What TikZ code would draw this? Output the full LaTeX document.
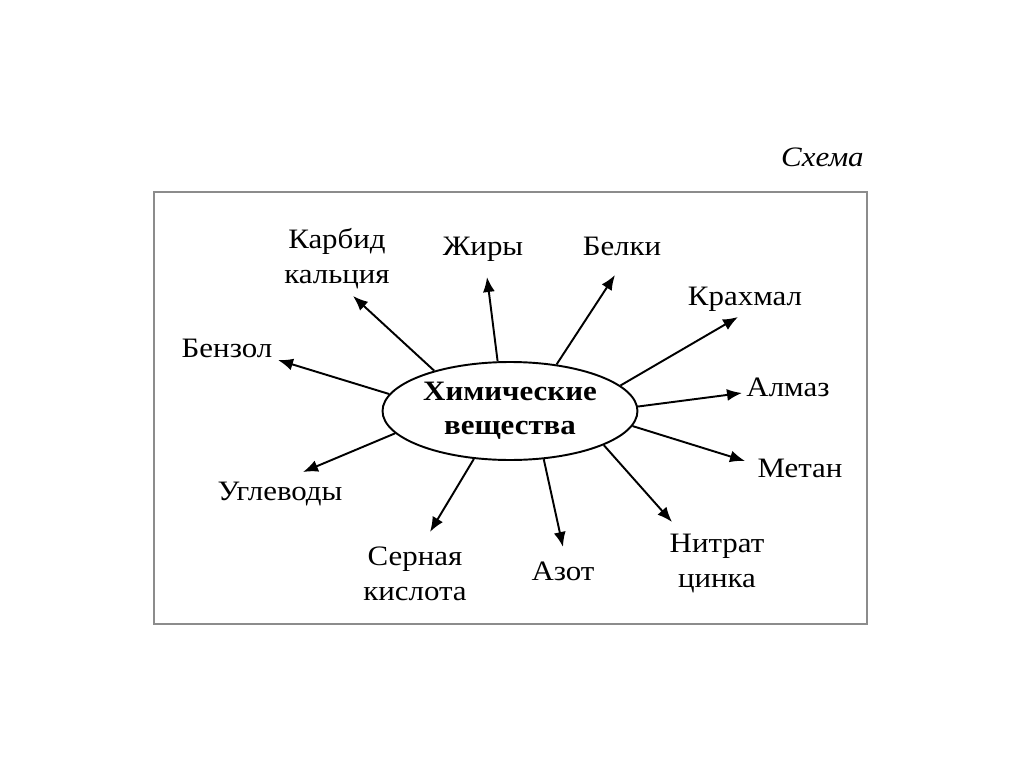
\documentclass[tikz,border=0pt]{standalone}
\usepackage{fontspec}
\setmainfont{Liberation Serif}[FakeStretch=1.1]
\usetikzlibrary{arrows.meta,shapes.geometric}
\begin{document}
\begin{tikzpicture}[x=0.02cm,y=-0.02cm,
  lbl/.style={font=\fontsize{16}{19.4}\selectfont, inner sep=0pt, align=center, anchor=base},
  arr/.style={line width=1.1pt, -{Latex[length=0.3cm,width=0.24cm]}},
  frame/.style={line width=1.4pt, draw=black!45},
  hub/.style={ellipse, draw, line width=1.1pt, minimum width=5.1cm, minimum height=1.96cm,
    inner sep=0pt, align=center, font=\bfseries\fontsize{16}{19.4}\selectfont}
]
\useasboundingbox (0,0) rectangle (1024,767);
\fill[white] (0,0) rectangle (1024,767);
\draw[frame] (154,192) rectangle (867,624);
\node[font=\itshape\fontsize{16}{19}\selectfont, anchor=base east, inner sep=0pt] (title) at (864,166) {Схема};

\node[hub] (chem) at (510,411) {Химические\\вещества};

\node[lbl] (karb) at (337,283) {Карбид\\кальция};
\node[lbl] (zhir) at (483,255) {Жиры};
\node[lbl] (belk) at (622,255) {Белки};
\node[lbl] (krah) at (745,305) {Крахмал};
\node[lbl] (alm)  at (788,396) {Алмаз};
\node[lbl] (met)  at (800,477) {Метан};
\node[lbl] (nitr) at (717,587) {Нитрат\\цинка};
\node[lbl] (azot) at (563,580) {Азот};
\node[lbl] (sern) at (415,600) {Серная\\кислота};
\node[lbl] (ugl)  at (280,500) {Углеводы};
\node[lbl] (benz) at (227,357) {Бензол};

\coordinate (tKarb) at (353,296);
\coordinate (tZhir) at (487,277);
\coordinate (tBelk) at (615,275);
\coordinate (tKrah) at (738,317);
\coordinate (tAlm)  at (742,393);
\coordinate (tMet)  at (745,461);
\coordinate (tNitr) at (672,522);
\coordinate (tAzot) at (563,547);
\coordinate (tSern) at (430,532);
\coordinate (tUgl)  at (303,472);
\coordinate (tBenz) at (278,360);

\draw[arr] (chem.152.6) -- (tKarb);
\draw[arr] (chem.104.6) -- (tZhir);
\draw[arr] (chem.45)    -- (tBelk);
\draw[arr] (chem.13.4)  -- (tKrah);
\draw[arr] (chem.2.2)   -- (tAlm);
\draw[arr] (chem.-7)    -- (tMet);
\draw[arr] (chem.-20)   -- (tNitr);
\draw[arr] (chem.-55)   -- (tAzot);
\draw[arr] (chem.-127)  -- (tSern);
\draw[arr] (chem.-169.5) -- (tUgl);
\draw[arr] (chem.172.7) -- (tBenz);
\end{tikzpicture}
\end{document}
